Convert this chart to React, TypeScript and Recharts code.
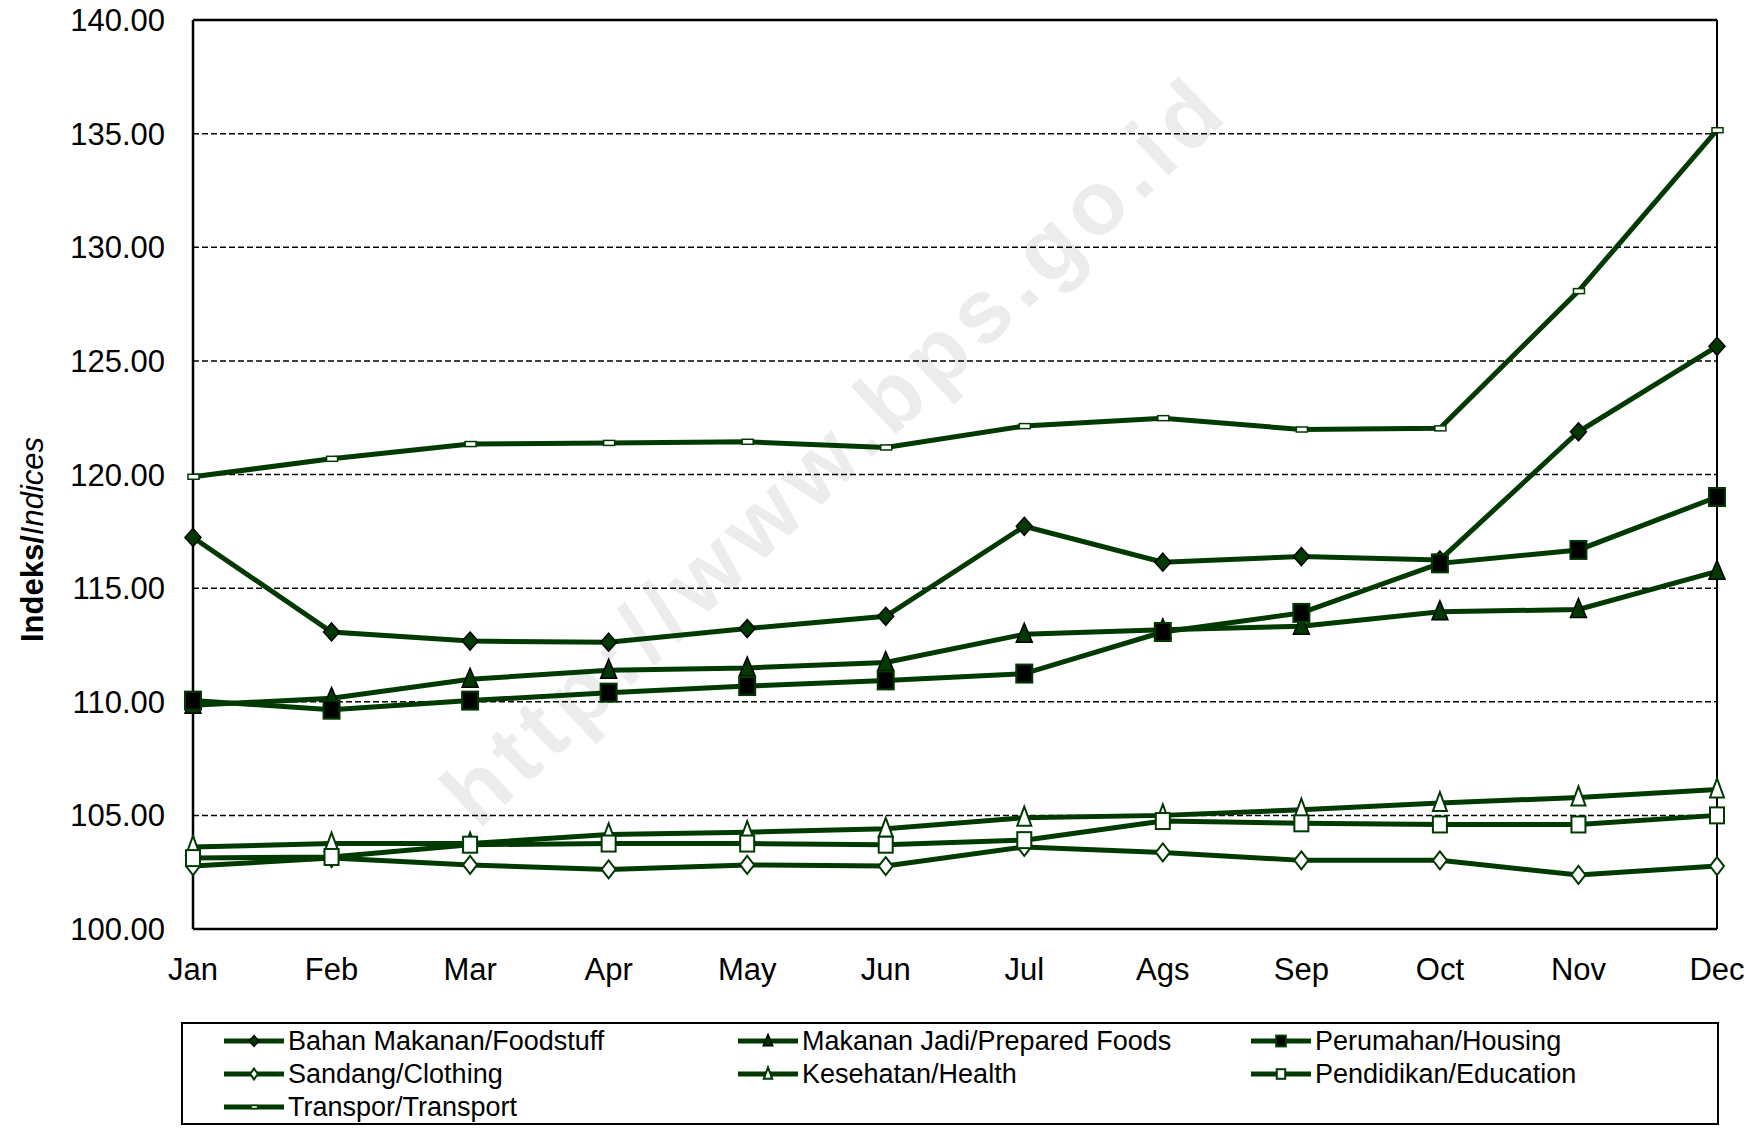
import React from "react";
import { LineChart, Line, XAxis, YAxis, CartesianGrid, ReferenceLine } from "recharts";

const MONTHS = ["Jan", "Feb", "Mar", "Apr", "May", "Jun", "Jul", "Ags", "Sep", "Oct", "Nov", "Dec"];

const FOODSTUFF = [117.23, 113.07, 112.67, 112.62, 113.22, 113.76, 117.72, 116.14, 116.39, 116.24, 121.88, 125.64];
const PREPARED = [109.85, 110.15, 110.99, 111.39, 111.49, 111.73, 112.97, 113.17, 113.32, 113.96, 114.06, 115.74];
const HOUSING = [110.05, 109.65, 110.05, 110.4, 110.69, 110.94, 111.24, 113.07, 113.91, 116.09, 116.68, 119.01];
const CLOTHING = [102.77, 103.12, 102.82, 102.62, 102.82, 102.77, 103.61, 103.37, 103.02, 103.02, 102.38, 102.77];
const HEALTH = [103.61, 103.76, 103.76, 104.16, 104.26, 104.41, 104.9, 105.0, 105.25, 105.54, 105.79, 106.14];
const EDUCATION = [103.12, 103.17, 103.71, 103.76, 103.76, 103.71, 103.91, 104.75, 104.65, 104.6, 104.6, 105.0];
const TRANSPORT = [119.9, 120.69, 121.34, 121.39, 121.44, 121.19, 122.13, 122.48, 121.98, 122.03, 128.07, 135.15];

const Y_TICKS = [100, 105, 110, 115, 120, 125, 130, 135, 140];
const X_TICKS = [0, 1, 2, 3, 4, 5, 6, 7, 8, 9, 10, 11];
const X_MIDS = [0.5, 1.5, 2.5, 3.5, 4.5, 5.5, 6.5, 7.5, 8.5, 9.5, 10.5];

const GREEN = "#003a00";
const FONT = '"Liberation Sans", Arial, sans-serif';

const data = MONTHS.map((m, i) => ({
  idx: i,
  month: m,
  food: FOODSTUFF[i],
  prepared: PREPARED[i],
  housing: HOUSING[i],
  clothing: CLOTHING[i],
  health: HEALTH[i],
  education: EDUCATION[i],
  transport: TRANSPORT[i],
}));

type Kind = "diamond" | "triangle" | "square" | "diamondO" | "triangleO" | "squareO" | "dash" | "none";

// marker shapes, s scales them down for the legend
function marker(kind: Kind, cx: number, cy: number, s = 1, key?: any) {
  const w = 8 * s;
  const h = 9 * s;
  switch (kind) {
    case "diamond":
      return <polygon key={key} points={`${cx},${cy - h} ${cx + w},${cy} ${cx},${cy + h} ${cx - w},${cy}`} fill={GREEN} stroke="#000" strokeWidth={1.5} />;
    case "diamondO":
      return <polygon key={key} points={`${cx},${cy - h} ${cx + w - 1},${cy} ${cx},${cy + h} ${cx - w + 1},${cy}`} fill="#fff" stroke={GREEN} strokeWidth={2} />;
    case "triangle":
      return <polygon key={key} points={`${cx},${cy - 11 * s} ${cx + 8 * s},${cy + 8 * s} ${cx - 8 * s},${cy + 8 * s}`} fill={GREEN} stroke="#000" strokeWidth={1.5} />;
    case "triangleO":
      return <polygon key={key} points={`${cx},${cy - 11 * s} ${cx + 7 * s},${cy + 8 * s} ${cx - 7 * s},${cy + 8 * s}`} fill="#fff" stroke={GREEN} strokeWidth={2} />;
    case "square":
      return <rect key={key} x={cx - 8 * s} y={cy - 9 * s} width={16 * s} height={18 * s} fill="#000" stroke={GREEN} strokeWidth={2} />;
    case "squareO":
      return <rect key={key} x={cx - 7 * s} y={cy - 8 * s} width={14 * s} height={16 * s} fill="#fff" stroke={GREEN} strokeWidth={2} />;
    case "dash":
      return <rect key={key} x={cx - 5 * s} y={cy - 2.5 * s} width={11 * s} height={5 * s} fill="#fff" stroke={GREEN} strokeWidth={1.5} />;
    default:
      return <g key={key} />;
  }
}

const SERIES: { key: string; name: string; kind: Kind }[] = [
  { key: "food", name: "Bahan Makanan/Foodstuff", kind: "diamond" },
  { key: "prepared", name: "Makanan Jadi/Prepared Foods", kind: "triangle" },
  { key: "housing", name: "Perumahan/Housing", kind: "square" },
  { key: "clothing", name: "Sandang/Clothing", kind: "diamondO" },
  { key: "health", name: "Kesehatan/Health", kind: "triangleO" },
  { key: "education", name: "Pendidikan/Education", kind: "squareO" },
  { key: "transport", name: "Transpor/Transport", kind: "dash" },
];

function YLabel(props: any) {
  const vb = props.viewBox || { x: 0, y: 20, width: 193, height: 909 };
  const cx = vb.x + 32;
  const cy = vb.y + vb.height / 2 + 65;
  return (
    <text
      x={cx}
      y={cy}
      transform={`rotate(-90 ${cx} ${cy})`}
      textAnchor="middle"
      dominantBaseline="central"
      fontSize={31}
      fontFamily={FONT}
      fontWeight="bold"
      fill="#000"
    >
      Indeks/<tspan fontStyle="italic" fontWeight="normal">Indices</tspan>
    </text>
  );
}

const LEGEND_COLS = [41, 555, 1068];
const LEGEND_ROWS = [17, 50, 83];

export default function App() {
  return (
    <div style={{ position: "absolute", left: 0, top: 0, width: 1763, height: 1128, background: "#fff", fontFamily: FONT }}>
      {/* watermark */}
      <div
        style={{
          position: "absolute",
          left: 835,
          top: 450,
          transform: "translate(-50%, -50%) rotate(-43.5deg)",
          fontSize: 90,
          fontWeight: "bold",
          letterSpacing: 8,
          color: "#ececec",
          whiteSpace: "nowrap",
        }}
      >
        http://www.bps.go.id
      </div>

      <div style={{ position: "absolute", left: 0, top: 0 }}>
        <LineChart width={1763} height={1000} data={data} margin={{ top: 20, right: 46, left: 0, bottom: 0 }}>
          <CartesianGrid vertical={false} stroke="#000" strokeDasharray="6 3" strokeWidth={1.5} yAxisId="y" xAxisId="b" />
          <XAxis
            xAxisId="b"
            dataKey="idx"
            type="number"
            domain={[0, 11]}
            ticks={X_TICKS}
            tickFormatter={(i: number) => MONTHS[i]}
            axisLine={false}
            tickLine={false}
            tickSize={0}
            tickMargin={28}
            height={70}
            interval={0}
            tick={{ fill: "#000", fontSize: 31, fontFamily: FONT }}
          />
          {/* bottom axis line with inward ticks between months */}
          <XAxis
            xAxisId="a"
            dataKey="idx"
            type="number"
            domain={[0, 11]}
            ticks={X_MIDS}
            tick={false}
            tickSize={-9}
            height={1}
            axisLine={{ stroke: "#000", strokeWidth: 2.5 }}
            tickLine={{ stroke: "#000", strokeWidth: 2 }}
            interval={0}
          />
          <YAxis
            yAxisId="y"
            type="number"
            domain={[100, 140]}
            ticks={Y_TICKS}
            interval={0}
            tickFormatter={(v: number) => v.toFixed(2)}
            width={193}
            axisLine={{ stroke: "#000", strokeWidth: 2.5 }}
            tickLine={false}
            tickMargin={22}
            tick={{ fill: "#000", fontSize: 31, fontFamily: FONT }}
            label={{ content: YLabel }}
          />
          <ReferenceLine y={140} yAxisId="y" xAxisId="b" stroke="#000" strokeWidth={2.5} />
          <ReferenceLine x={11} yAxisId="y" xAxisId="b" stroke="#000" strokeWidth={2} />
          {SERIES.map((s) => (
            <Line
              key={s.key}
              xAxisId="b"
              yAxisId="y"
              dataKey={s.key}
              name={s.name}
              stroke={GREEN}
              strokeWidth={5}
              isAnimationActive={false}
              activeDot={false}
              dot={(p: any) => marker(s.kind, p.cx, p.cy, 1, `${s.key}-${p.index}`)}
            />
          ))}
        </LineChart>
      </div>

      {/* legend */}
      <div
        style={{
          position: "absolute",
          left: 181,
          top: 1022,
          width: 1538,
          height: 103,
          border: "2px solid #000",
          boxSizing: "border-box",
          background: "#fff",
        }}
      >
        {SERIES.map((s, i) => {
          const col = LEGEND_COLS[i % 3];
          const row = LEGEND_ROWS[Math.floor(i / 3)];
          return (
            <div key={s.key} style={{ position: "absolute", left: col - 2, top: row - 17, height: 34, display: "flex", alignItems: "center" }}>
              <svg width={64} height={34}>
                <line x1={2} x2={62} y1={17} y2={17} stroke={GREEN} strokeWidth={5} />
                {marker(s.kind, 32, 17, 0.6)}
              </svg>
              <span style={{ fontSize: 27, color: "#000", marginLeft: 2, whiteSpace: "nowrap" }}>{s.name}</span>
            </div>
          );
        })}
      </div>
    </div>
  );
}
